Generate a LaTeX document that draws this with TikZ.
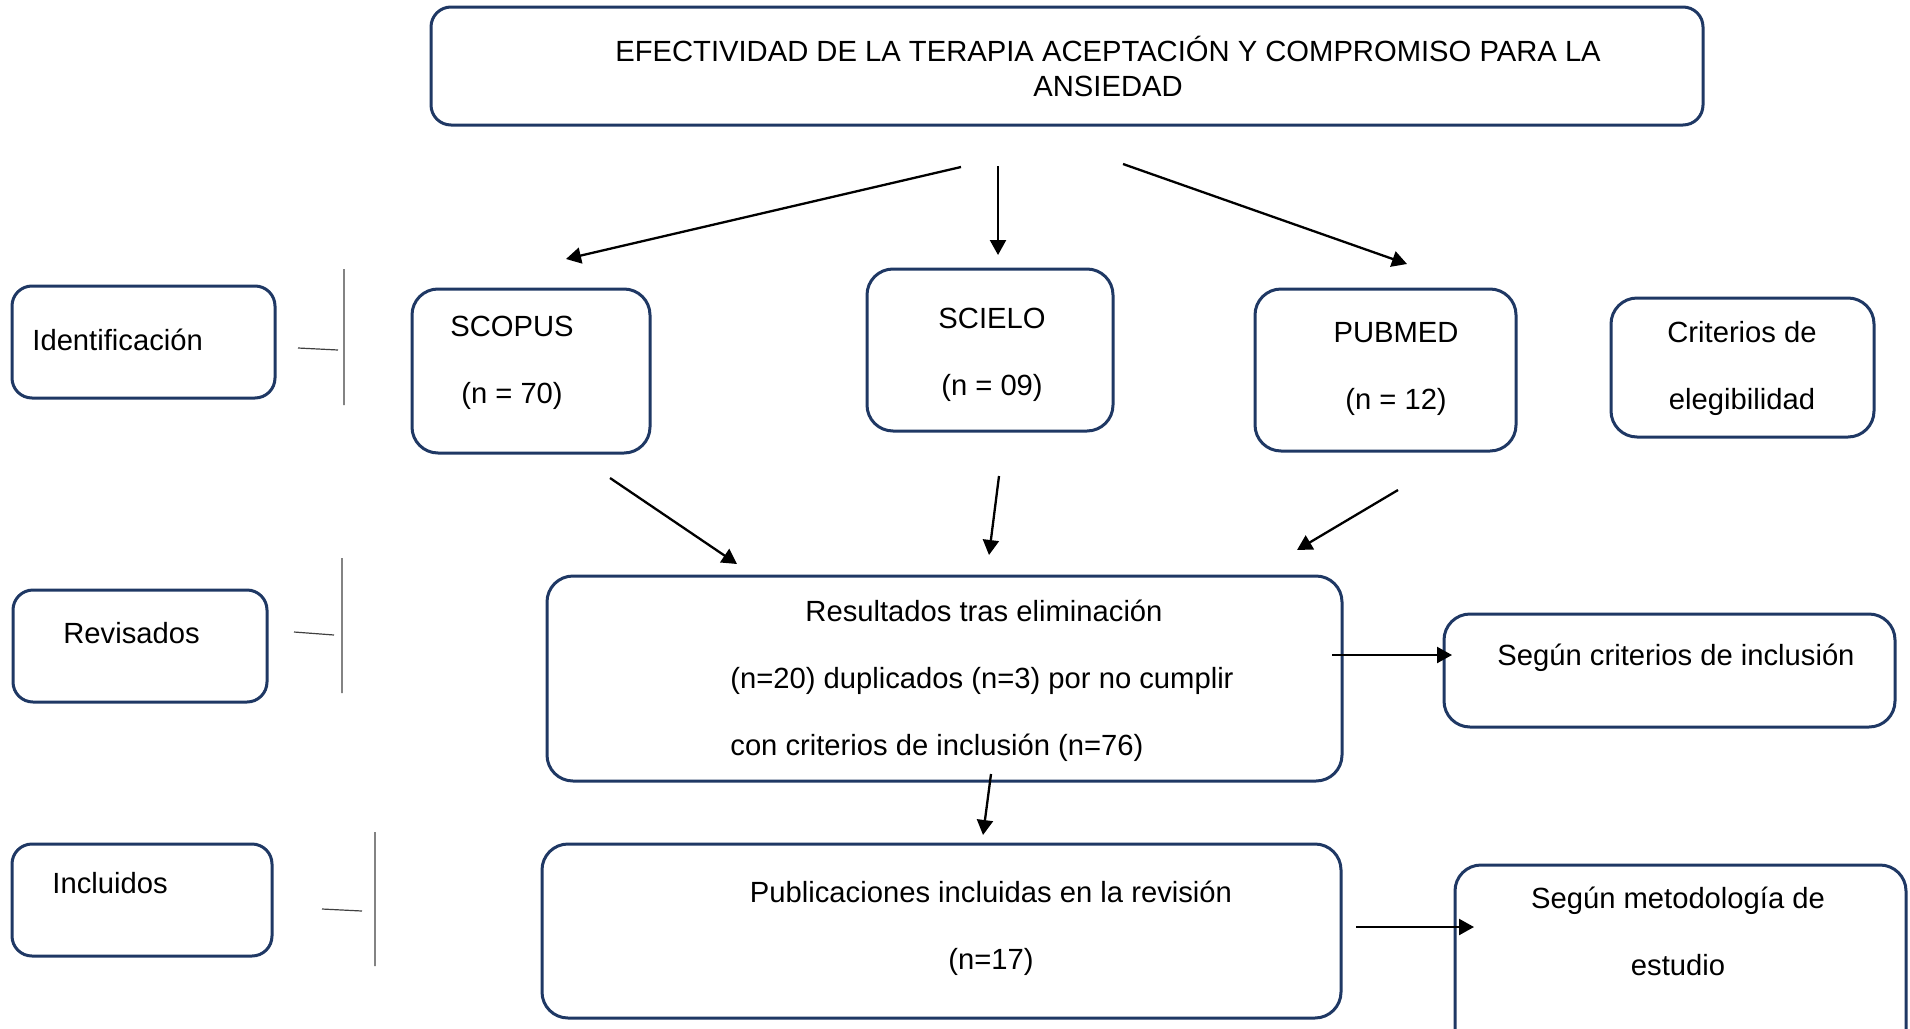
\documentclass[tikz,border=0pt]{standalone}
\usepackage{fontspec}
\setmainfont{Liberation Sans}
\usetikzlibrary{arrows.meta, positioning, fit}
\definecolor{azul}{RGB}{31,56,100}
\tikzset{caja/.style={draw=azul, line width=1.5pt, rounded corners=13pt, inner sep=0pt},
         texto/.style={font=\fontsize{14.6}{33.5}\selectfont, align=center, inner sep=0pt},
         flecha/.style={line width=1.15pt, -{Triangle[length=7.5pt, width=8pt]}},
         separador/.style={line width=0.6pt, black!75}}

\begin{document}
\begin{tikzpicture}[x=0.5pt, y=-0.5pt]
            \useasboundingbox (0,0) rectangle (1910,1028);
            % cajas
            \node[caja, rounded corners=10pt, fit={(431,7) (1703,125)}] (titulo) {};
            \node[caja, fit={(412,289) (650,453)}] (scopus) {};
            \node[caja, fit={(867,269) (1113,431)}] (scielo) {};
            \node[caja, fit={(1255,289) (1516,451)}] (pubmed) {};
            \node[caja, fit={(1611,298) (1874,437)}] (criterios) {};
            \node[caja, rounded corners=10pt, fit={(12,286) (275,398)}] (identificacion) {};
            \node[caja, rounded corners=10pt, fit={(13,590) (267,702)}] (revisados) {};
            \node[caja, rounded corners=10pt, fit={(12,844) (272,956)}] (incluidos) {};
            \node[caja, fit={(547,576) (1342,781)}] (resultados) {};
            \node[caja, fit={(1444,614) (1895,727)}] (segun_inclusion) {};
            \node[caja, fit={(542,844) (1341,1018)}] (publicaciones) {};
            \node[caja, fit={(1455,865) (1906,1070)}] (segun_metodologia) {};
            % textos
            \node[texto, font=\fontsize{14.6}{17.5}\selectfont] (titulo_txt) at (1108,66) {EFECTIVIDAD DE LA TERAPIA ACEPTACIÓN Y COMPROMISO PARA LA\\ANSIEDAD};
            \node[texto] (scopus_txt) at (512,363) {SCOPUS\\(n = 70)};
            \node[texto] (scielo_txt) at (992,355) {SCIELO\\(n = 09)};
            \node[texto] (pubmed_txt) at (1396,369) {PUBMED\\(n = 12)};
            \node[texto] (criterios_txt) at (1742,368) {Criterios de\\elegibilidad};
            \node[texto, anchor=west] (identificacion_txt) at (32,340) {Identificación};
            \node[texto, anchor=west] (revisados_txt) at (63,633) {Revisados};
            \node[texto, anchor=west] (incluidos_txt) at (52,883) {Incluidos};
            \node[texto] (resultados_txt) at (984,611) {Resultados tras eliminación};
            \node[texto, anchor=west, align=left] (duplicados_txt) at (730,714) {(n=20) duplicados (n=3) por no cumplir\\con criterios de inclusión (n=76)};
            \node[texto] (segun_inclusion_txt) at (1676,658) {Según criterios de inclusión};
            \node[texto] (publicaciones_txt) at (991,928) {Publicaciones incluidas en la revisión\\(n=17)};
            \node[texto] (segun_metodologia_txt) at (1678,931) {Según metodología de\\estudio};
            % extremos de las flechas
            \coordinate (sale_scopus) at (961,167);   \coordinate (llega_scopus) at (566,259);
            \coordinate (sale_scielo) at (998,166);   \coordinate (llega_scielo) at (998,255);
            \coordinate (sale_pubmed) at (1123,164);  \coordinate (llega_pubmed) at (1407,264);
            \coordinate (scopus_sale) at (610,478);   \coordinate (scopus_llega) at (737,564);
            \coordinate (scielo_sale) at (999,476);   \coordinate (scielo_llega) at (989,555);
            \coordinate (pubmed_sale) at (1398,490);  \coordinate (pubmed_llega) at (1297,550);
            \coordinate (resultados_sale) at (1332,655); \coordinate (inclusion_llega) at (1452,655);
            \coordinate (resultados_baja) at (991,774);  \coordinate (publicaciones_llega) at (983,835);
            \coordinate (publicaciones_sale) at (1356,927); \coordinate (metodologia_llega) at (1474,927);
            \draw (sale_scopus) edge[flecha] (llega_scopus)
                  (sale_scielo) edge[flecha] (llega_scielo)
                  (sale_pubmed) edge[flecha] (llega_pubmed)
                  (scopus_sale) edge[flecha] (scopus_llega)
                  (scielo_sale) edge[flecha] (scielo_llega)
                  (pubmed_sale) edge[flecha] (pubmed_llega)
                  (resultados_sale) edge[flecha] (inclusion_llega)
                  (resultados_baja) edge[flecha] (publicaciones_llega)
                  (publicaciones_sale) edge[flecha] (metodologia_llega);
            % separadores de las etapas
            \draw[separador] (298,348) -- (338,350) (344,269) -- (344,405);
            \draw[separador] (294,632) -- (334,635) (342,558) -- (342,693);
            \draw[separador] (322,909) -- (362,911) (375,832) -- (375,966);
      \end{tikzpicture}
\end{document}
